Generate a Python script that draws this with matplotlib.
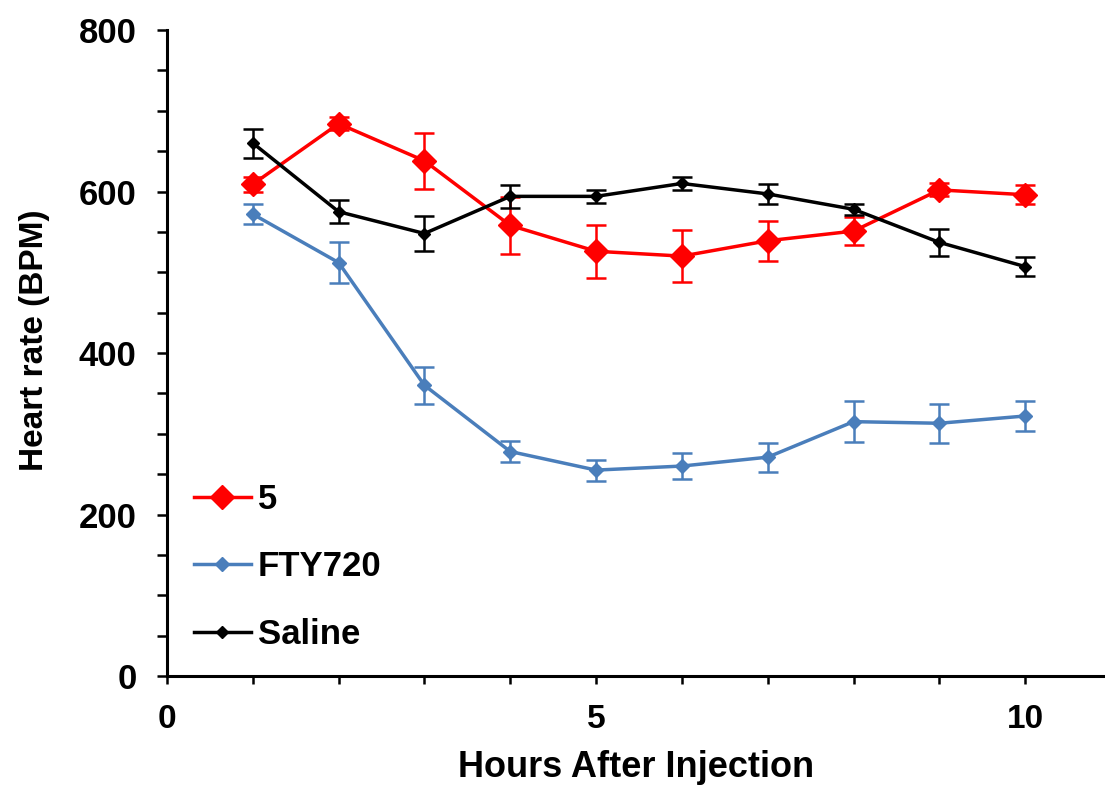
import matplotlib
matplotlib.use('Agg')
import matplotlib.pyplot as plt
from matplotlib.lines import Line2D

# Data
hours = [1, 2, 3, 4, 5, 6, 7, 8, 9, 10]

cmpd5 = [609, 684, 638, 558, 526, 520, 539, 551, 602, 596]
cmpd5_err = [9, 8, 35, 35, 33, 32, 25, 17, 8, 12]

fty720 = [572, 512, 360, 278, 255, 260, 271, 315, 313, 322]
fty720_err = [12, 25, 23, 13, 13, 16, 18, 25, 24, 18]

saline = [660, 575, 548, 594, 594, 610, 597, 578, 537, 507]
saline_err = [18, 14, 22, 14, 8, 8, 12, 7, 17, 12]

plt.rcParams['font.family'] = ['Liberation Sans', 'DejaVu Sans']
plt.rcParams['font.weight'] = 'bold'

fig = plt.figure(figsize=(11.05, 7.9), dpi=100)
ax = fig.add_axes([0.1511, 0.1443, 0.8489, 0.8177])

series = [
    (cmpd5, cmpd5_err, '#FF0000', 12, '5', 3),
    (fty720, fty720_err, '#4A7EBB', 7, 'FTY720', 2),
    (saline, saline_err, 'black', 6, 'Saline', 4),
]
handles = []
for vals, errs, col, ms, lab, z in series:
    ax.errorbar(hours, vals, yerr=errs, color=col, marker='D', markersize=ms,
                linewidth=2.5, elinewidth=1.8, capsize=7, capthick=1.8, zorder=z)
    handles.append(Line2D([], [], color=col, marker='D', markersize=ms, linewidth=2.5, label=lab))

ax.set_xlim(0, 10.93)
ax.set_ylim(0, 800)

ax.set_yticks(range(0, 801, 50))
ax.set_yticklabels([str(v) if v % 200 == 0 else '' for v in range(0, 801, 50)])
ax.set_xticks(range(0, 11))
ax.set_xticklabels([str(v) if v % 5 == 0 else '' for v in range(0, 11)])

ax.tick_params(axis='y', direction='out', length=7, width=1.8, labelsize=25, pad=15)
ax.tick_params(axis='x', direction='out', length=6, width=1.8, labelsize=24, pad=14)

for side in ['top', 'right']:
    ax.spines[side].set_visible(False)
for side in ['left', 'bottom']:
    ax.spines[side].set_linewidth(2.2)

ax.set_xlabel('Hours After Injection', fontsize=26, fontweight='bold', labelpad=11)
ax.set_ylabel('Heart rate (BPM)', fontsize=24, fontweight='bold')
ax.yaxis.set_label_coords(-0.125, 0.52)

ax.legend(handles=handles, loc='lower left', bbox_to_anchor=(-0.005, -0.01), frameon=False,
          fontsize=25, handlelength=1.65, handletextpad=0.2, labelspacing=1.0)

fig.savefig('out.png', dpi=100)
